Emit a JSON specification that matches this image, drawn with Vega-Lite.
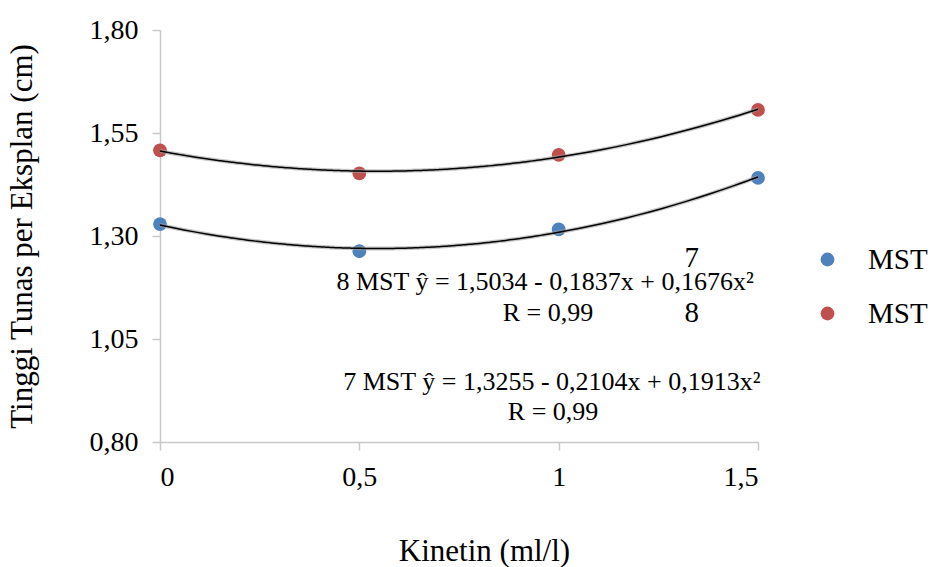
{
  "$schema": "https://vega.github.io/schema/vega-lite/v6.json",
  "width": 598,
  "height": 412,
  "autosize": "none",
  "padding": {"left": 160, "top": 30, "right": 177, "bottom": 125},
  "background": "white",
  "config": {
    "view": {"stroke": null},
    "font": "Liberation Serif",
    "axis": {"labelFont": "Liberation Serif", "titleFont": "Liberation Serif"},
    "legend": {"labelFont": "Liberation Serif"},
    "text": {"font": "Liberation Serif"}
  },
  "datasets": {
    "pts": [
      {"x": 0, "y": 1.329, "series": "7 MST"},
      {"x": 0.5, "y": 1.263, "series": "7 MST"},
      {"x": 1, "y": 1.316, "series": "7 MST"},
      {"x": 1.5, "y": 1.441, "series": "7 MST"},
      {"x": 0, "y": 1.508, "series": "8 MST"},
      {"x": 0.5, "y": 1.452, "series": "8 MST"},
      {"x": 1, "y": 1.497, "series": "8 MST"},
      {"x": 1.5, "y": 1.606, "series": "8 MST"}
    ],
    "notes": [
      {"x": 0.966, "y": 1.188, "text": "8 MST ŷ = 1,5034 - 0,1837x + 0,1676x²", "kind": "eq"},
      {"x": 0.973, "y": 1.113, "text": "R = 0,99", "kind": "eq"},
      {"x": 0.983, "y": 0.946, "text": "7 MST ŷ = 1,3255 - 0,2104x + 0,1913x²", "kind": "eq"},
      {"x": 0.986, "y": 0.873, "text": "R = 0,99", "kind": "eq"},
      {"x": 1.334, "y": 1.247, "text": "7", "kind": "num"},
      {"x": 1.334, "y": 1.113, "text": "8", "kind": "num"}
    ]
  },
  "layer": [
    {
      "data": {"name": "pts"},
      "mark": {"type": "point", "filled": true, "size": 190, "opacity": 1, "shape": "circle"},
      "encoding": {
        "x": {
          "field": "x", "type": "quantitative",
          "scale": {"domain": [0, 1.5], "nice": false, "zero": false},
          "axis": {
            "values": [0, 0.5, 1, 1.5],
            "labelExpr": "replace(format(datum.value, '~g'), '.', ',')",
            "grid": false, "domainColor": "#c8c8c8", "domainWidth": 1.5,
            "tickColor": "#c8c8c8", "tickWidth": 1.5, "tickSize": 8,
            "labelFontSize": 28, "labelColor": "black", "labelPadding": 13,
            "title": "Kinetin (ml/l)", "titleFontSize": 31, "titleFontWeight": "normal",
            "titleColor": "black", "titleX": 324, "titleY": 109,
            "titleAlign": "center", "titleBaseline": "middle"
          }
        },
        "y": {
          "field": "y", "type": "quantitative",
          "scale": {"domain": [0.8, 1.8], "nice": false, "zero": false},
          "axis": {
            "values": [0.8, 1.05, 1.3, 1.55, 1.8],
            "labelExpr": "replace(format(datum.value, '.2f'), '.', ',')",
            "grid": false, "domainColor": "#c8c8c8", "domainWidth": 1.5,
            "tickColor": "#c8c8c8", "tickWidth": 1.5, "tickSize": 8,
            "labelFontSize": 28, "labelColor": "black", "labelPadding": 14,
            "title": "Tinggi Tunas per Eksplan (cm)", "titleFontSize": 31,
            "titleFontWeight": "normal", "titleColor": "black",
            "titleX": -138, "titleY": 206, "titleAngle": -90,
            "titleAlign": "center", "titleBaseline": "middle"
          }
        },
        "color": {
          "field": "series", "type": "nominal",
          "scale": {"domain": ["7 MST", "8 MST"], "range": ["#4f81bd", "#c0504d"]},
          "legend": {
            "orient": "none", "legendX": 653, "legendY": 215, "title": null,
            "labelExpr": "'MST'", "labelFontSize": 29, "labelColor": "black",
            "symbolType": "circle", "symbolSize": 190, "symbolStrokeWidth": 0,
            "labelOffset": 26, "rowPadding": 24, "padding": 0
          }
        }
      }
    },
    {
      "data": {"name": "pts"},
      "transform": [
        {"regression": "y", "on": "x", "groupby": ["series"], "method": "poly", "order": 2, "extent": [0, 1.5]}
      ],
      "mark": {"type": "line", "color": "#a0a0a0", "strokeWidth": 4, "opacity": 0.6, "interpolate": "monotone"},
      "encoding": {
        "x": {"field": "x", "type": "quantitative"},
        "y": {"field": "y", "type": "quantitative"},
        "detail": {"field": "series"}
      }
    },
    {
      "data": {"name": "pts"},
      "transform": [
        {"regression": "y", "on": "x", "groupby": ["series"], "method": "poly", "order": 2, "extent": [0, 1.5]}
      ],
      "mark": {"type": "line", "color": "black", "strokeWidth": 1.5, "interpolate": "monotone"},
      "encoding": {
        "x": {"field": "x", "type": "quantitative"},
        "y": {"field": "y", "type": "quantitative"},
        "detail": {"field": "series"}
      }
    },
    {
      "data": {"name": "notes"},
      "transform": [{"filter": "datum.kind === 'eq'"}],
      "mark": {"type": "text", "fontSize": 26, "color": "black", "align": "center", "baseline": "middle"},
      "encoding": {
        "x": {"field": "x", "type": "quantitative"},
        "y": {"field": "y", "type": "quantitative"},
        "text": {"field": "text"}
      }
    },
    {
      "data": {"name": "notes"},
      "transform": [{"filter": "datum.kind === 'num'"}],
      "mark": {"type": "text", "fontSize": 29, "color": "black", "align": "center", "baseline": "middle"},
      "encoding": {
        "x": {"field": "x", "type": "quantitative"},
        "y": {"field": "y", "type": "quantitative"},
        "text": {"field": "text"}
      }
    }
  ]
}
